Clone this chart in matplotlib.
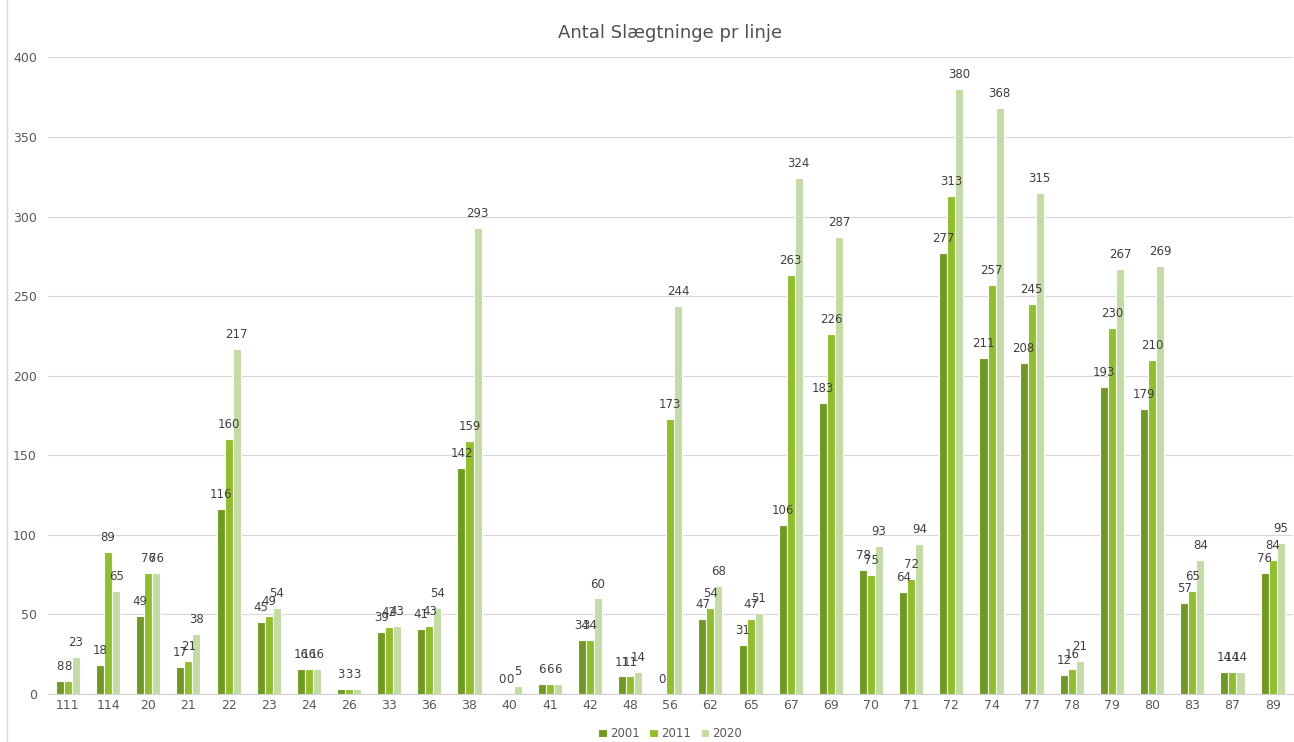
import numpy as np
import matplotlib
matplotlib.use("Agg")
import matplotlib.pyplot as plt
from matplotlib.lines import Line2D

# data
linjer = ["111", "114", "20", "21", "22", "23", "24", "26", "33", "36", "38", "40", "41", "42", "48",
          "56", "62", "65", "67", "69", "70", "71", "72", "74", "77", "78", "79", "80", "83", "87", "89"]
aar = ["2001", "2011", "2020"]
v2001 = [8, 18, 49, 17, 116, 45, 16, 3, 39, 41, 142, 0, 6, 34, 11,
         0, 47, 31, 106, 183, 78, 64, 277, 211, 208, 12, 193, 179, 57, 14, 76]
v2011 = [8, 89, 76, 21, 160, 49, 16, 3, 42, 43, 159, 0, 6, 34, 11,
         173, 54, 47, 263, 226, 75, 72, 313, 257, 245, 16, 230, 210, 65, 14, 84]
v2020 = [23, 65, 76, 38, 217, 54, 16, 3, 43, 54, 293, 5, 6, 60, 14,
         244, 68, 51, 324, 287, 93, 94, 380, 368, 315, 21, 267, 269, 84, 14, 95]
farver = ["#6f9a22", "#8fbf2a", "#c3dca4"]

fig = plt.figure(figsize=(12.94, 7.42), dpi=100)
ax = fig.add_axes([0.037, 0.0647, 0.962, 0.858])

x = np.arange(len(linjer))
bw = 0.2
for i, (serie, navn, c) in enumerate(zip([v2001, v2011, v2020], aar, farver)):
    pos = x + (i - 1) * bw
    ax.bar(pos, serie, width=bw, color=c, edgecolor="white", linewidth=0.8, label=navn)
    for xx, v in zip(pos, serie):
        ax.text(xx, v + 5, str(v), ha="center", va="bottom", fontsize=8.5, color="#404040")

ax.set_xlim(-0.5, len(linjer) - 0.5)
ax.set_ylim(0, 400)
ax.set_yticks(range(0, 401, 50))
ax.set_xticks(x)
ax.set_xticklabels(linjer)
ax.tick_params(axis="both", length=0, labelsize=9, colors="#595959")
ax.tick_params(axis="y", pad=8)
ax.yaxis.grid(True, color="#d9d9d9", linewidth=0.9)
ax.set_axisbelow(True)
for s in ["top", "right", "left"]:
    ax.spines[s].set_visible(False)
ax.spines["bottom"].set_color("#d0d0d0")

ax.set_title("Antal Slægtninge pr linje", fontsize=13, color="#505050", pad=14)

ax.legend(loc="upper center", bbox_to_anchor=(0.5, -0.035), ncol=3, frameon=False,
          fontsize=8.5, handlelength=0.7, handleheight=0.7, handletextpad=0.3,
          columnspacing=0.8, labelcolor="#595959")

fig.add_artist(Line2D([0.0055, 0.0055], [0, 1], transform=fig.transFigure, color="#d9d9d9", linewidth=1))

fig.savefig("out.png", dpi=100)
